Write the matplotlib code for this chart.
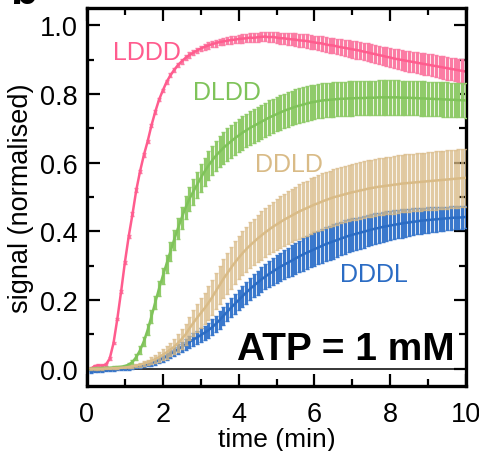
import numpy as np
import matplotlib
matplotlib.use('Agg')
import matplotlib.pyplot as plt
from matplotlib.ticker import MultipleLocator

plt.rcParams['font.family'] = ['Liberation Sans', 'DejaVu Sans']

# time points (min), one reading every 6 s
t = np.round(np.arange(1, 101) * 0.1, 1)

# LDDD
lddd = [0.000, 0.008, 0.010, 0.009, 0.012, 0.030, 0.075, 0.145, 0.225, 0.310,
        0.385, 0.450, 0.520, 0.575, 0.622, 0.662, 0.708, 0.748, 0.783, 0.810,
        0.835, 0.854, 0.870, 0.884, 0.895, 0.905, 0.913, 0.920, 0.926, 0.932,
        0.937, 0.941, 0.945, 0.948, 0.951, 0.953, 0.955, 0.957, 0.958, 0.960,
        0.961, 0.962, 0.964, 0.963, 0.965, 0.966, 0.967, 0.965, 0.966, 0.964,
        0.962, 0.962, 0.960, 0.959, 0.958, 0.956, 0.955, 0.954, 0.952, 0.950,
        0.948, 0.947, 0.944, 0.942, 0.941, 0.938, 0.936, 0.934, 0.932, 0.930,
        0.928, 0.926, 0.923, 0.921, 0.918, 0.916, 0.913, 0.911, 0.908, 0.906,
        0.903, 0.901, 0.899, 0.897, 0.895, 0.893, 0.891, 0.889, 0.887, 0.885,
        0.883, 0.881, 0.879, 0.877, 0.875, 0.873, 0.871, 0.869, 0.867, 0.865]
lddd_err = [0.004] * 10 + [0.005] * 10 + \
    [0.006, 0.006, 0.006, 0.007, 0.007, 0.007, 0.008, 0.008, 0.008, 0.008,
     0.009, 0.009, 0.009, 0.010, 0.010, 0.010, 0.010, 0.011, 0.011, 0.011,
     0.012, 0.012, 0.012, 0.013, 0.013, 0.013, 0.014, 0.014, 0.015, 0.015,
     0.016, 0.016, 0.017, 0.017, 0.018, 0.018, 0.019, 0.019, 0.020, 0.020,
     0.021, 0.021, 0.022, 0.022, 0.022, 0.023, 0.023, 0.023, 0.024, 0.024,
     0.025, 0.025, 0.025, 0.026, 0.026, 0.026, 0.027, 0.027, 0.028, 0.028,
     0.028, 0.029, 0.029, 0.029, 0.030, 0.030, 0.030, 0.031, 0.031, 0.031,
     0.032, 0.032, 0.032, 0.033, 0.033, 0.033, 0.034, 0.034, 0.035, 0.035]

# DLDD
dldd = [0.000, 0.001, 0.001, 0.002, 0.003, 0.003, 0.004, 0.005, 0.006, 0.008,
        0.012, 0.020, 0.034, 0.054, 0.080, 0.113, 0.152, 0.193, 0.233, 0.270,
        0.306, 0.341, 0.376, 0.409, 0.440, 0.469, 0.494, 0.515, 0.535, 0.555,
        0.574, 0.591, 0.606, 0.620, 0.632, 0.643, 0.653, 0.662, 0.671, 0.679,
        0.687, 0.694, 0.701, 0.707, 0.713, 0.719, 0.725, 0.731, 0.736, 0.741,
        0.746, 0.751, 0.755, 0.759, 0.763, 0.766, 0.769, 0.772, 0.775, 0.777,
        0.779, 0.781, 0.782, 0.783, 0.784, 0.785, 0.786, 0.786, 0.787, 0.787,
        0.788, 0.788, 0.788, 0.789, 0.789, 0.789, 0.790, 0.790, 0.790, 0.790,
        0.790, 0.790, 0.789, 0.789, 0.789, 0.788, 0.788, 0.787, 0.787, 0.786,
        0.786, 0.785, 0.785, 0.784, 0.784, 0.783, 0.783, 0.782, 0.782, 0.781]
dldd_err = [0.003] * 10 + \
    [0.005, 0.007, 0.009, 0.011, 0.013, 0.016, 0.018, 0.020, 0.022, 0.024,
     0.026, 0.028, 0.029, 0.031, 0.032, 0.034, 0.035, 0.037, 0.038, 0.040,
     0.041, 0.042, 0.043, 0.044, 0.045, 0.046, 0.047, 0.047, 0.048, 0.048,
     0.049, 0.049, 0.049, 0.049, 0.050, 0.050, 0.050, 0.050, 0.050, 0.050] + [0.050] * 50

# DDLD
ddld = [0.000, 0.000, 0.000, 0.000, 0.001, 0.001, 0.002, 0.002, 0.003, 0.004,
        0.005, 0.007, 0.009, 0.012, 0.015, 0.019, 0.023, 0.028, 0.034, 0.041,
        0.048, 0.056, 0.064, 0.075, 0.087, 0.100, 0.117, 0.133, 0.148, 0.162,
        0.176, 0.191, 0.208, 0.226, 0.244, 0.262, 0.278, 0.294, 0.309, 0.323,
        0.336, 0.348, 0.359, 0.369, 0.379, 0.388, 0.397, 0.405, 0.413, 0.420,
        0.427, 0.434, 0.440, 0.446, 0.452, 0.458, 0.463, 0.468, 0.473, 0.478,
        0.482, 0.487, 0.491, 0.495, 0.499, 0.502, 0.505, 0.508, 0.511, 0.514,
        0.516, 0.519, 0.521, 0.524, 0.526, 0.528, 0.530, 0.531, 0.533, 0.534,
        0.536, 0.537, 0.539, 0.540, 0.541, 0.542, 0.543, 0.544, 0.545, 0.546,
        0.547, 0.548, 0.549, 0.550, 0.551, 0.552, 0.553, 0.554, 0.555, 0.556]
ddld_err = [0.002] * 10 + \
    [0.003, 0.004, 0.005, 0.006, 0.007, 0.008, 0.010, 0.012, 0.014, 0.016,
     0.018, 0.020, 0.022, 0.025, 0.028, 0.031, 0.034, 0.037, 0.040, 0.043,
     0.046, 0.049, 0.051, 0.053, 0.055, 0.057, 0.059, 0.061, 0.062, 0.063,
     0.064, 0.066, 0.067, 0.068, 0.069, 0.070, 0.071, 0.072, 0.073, 0.074,
     0.075, 0.076, 0.077, 0.078, 0.078, 0.079, 0.080, 0.080, 0.081, 0.081] + \
    [0.082] * 10 + [0.083] * 10 + [0.084] * 10 + [0.085] * 10

# DDDL
dddl = [-0.008, -0.007, -0.006, -0.005, -0.004, -0.003, -0.002, -0.001, 0.000, 0.001,
        0.002, 0.004, 0.006, 0.008, 0.010, 0.013, 0.016, 0.020, 0.025, 0.030,
        0.036, 0.043, 0.050, 0.057, 0.064, 0.071, 0.078, 0.085, 0.091, 0.098,
        0.105, 0.112, 0.121, 0.131, 0.142, 0.154, 0.166, 0.178, 0.189, 0.200,
        0.211, 0.222, 0.232, 0.242, 0.251, 0.260, 0.268, 0.276, 0.283, 0.290,
        0.297, 0.303, 0.309, 0.315, 0.321, 0.327, 0.333, 0.338, 0.343, 0.348,
        0.353, 0.358, 0.363, 0.367, 0.371, 0.375, 0.379, 0.383, 0.387, 0.390,
        0.393, 0.396, 0.399, 0.402, 0.405, 0.408, 0.410, 0.413, 0.415, 0.417,
        0.419, 0.421, 0.423, 0.425, 0.426, 0.428, 0.429, 0.431, 0.432, 0.433,
        0.434, 0.435, 0.436, 0.437, 0.438, 0.439, 0.440, 0.440, 0.441, 0.442]
dddl_err = [0.003] * 10 + \
    [0.004, 0.004, 0.005, 0.005, 0.006, 0.006, 0.007, 0.008, 0.009, 0.010,
     0.011, 0.012, 0.013, 0.014, 0.015, 0.016, 0.017, 0.018, 0.019, 0.020,
     0.021, 0.022, 0.023, 0.024, 0.025, 0.026, 0.027, 0.028, 0.029, 0.030,
     0.031, 0.032, 0.033, 0.034, 0.035, 0.036, 0.037, 0.038, 0.039, 0.040,
     0.041, 0.042, 0.043, 0.044, 0.045, 0.046, 0.047, 0.048, 0.048, 0.049,
     0.049, 0.049, 0.050, 0.050, 0.050, 0.049, 0.049, 0.049, 0.048, 0.048,
     0.047, 0.047, 0.046, 0.046, 0.045, 0.045, 0.044, 0.044, 0.043, 0.043,
     0.042, 0.041, 0.041, 0.040, 0.039, 0.039, 0.038, 0.038, 0.037, 0.037,
     0.036, 0.036, 0.035, 0.035, 0.034, 0.034, 0.033, 0.033, 0.033, 0.032]

names = ['LDDD', 'DLDD', 'DDLD', 'DDDL']
line_cols = ['#ff5c8e', '#7fc35a', '#d9bb87', '#2b6cc4']
bar_cols = ['#fb7ca4', '#90cb6a', '#d8b984', '#3a78cc']
bar_alpha = [1.0, 1.0, 0.75, 1.0]
# left edge / baseline of each name
label_xy = [(0.69, 0.901), (2.8, 0.785), (4.43, 0.576), (6.68, 0.257)]

fig = plt.figure(figsize=(4.79, 4.52), dpi=100)
ax = fig.add_axes([0.1816, 0.1438, 0.7914, 0.8362])

ax.axhline(0, color='black', lw=1.1, zorder=0)

series = [lddd, dldd, dddl, ddld]
errs = [lddd_err, dldd_err, dddl_err, ddld_err]
order = [0, 1, 3, 2]
for k, idx in enumerate(order):
    y = np.array(series[k])
    e = np.array(errs[k])
    ax.errorbar(t, y, yerr=e, fmt='none', ecolor=bar_cols[idx], elinewidth=2.3,
                capsize=1.3, capthick=1.0, alpha=bar_alpha[idx], zorder=2 + k)
    ax.plot(t, y, color=line_cols[idx], lw=1.8, zorder=2 + k)

for i, name in enumerate(names):
    ax.text(label_xy[i][0], label_xy[i][1], name, color=line_cols[i],
            fontsize=18, ha='left', va='baseline', zorder=10)

ax.text(9.71, 0.029, 'ATP = 1 mM', fontsize=28, fontweight='bold',
        ha='right', va='baseline', zorder=10)

ax.set_xlim(0, 10)
ax.set_ylim(-0.05, 1.05)
ax.xaxis.set_major_locator(MultipleLocator(2))
ax.xaxis.set_minor_locator(MultipleLocator(1))
ax.yaxis.set_major_locator(MultipleLocator(0.2))
ax.yaxis.set_minor_locator(MultipleLocator(0.1))
ax.yaxis.set_major_formatter(plt.FormatStrFormatter('%.1f'))
ax.tick_params(which='both', direction='in', top=True, right=True,
               width=1.6, labelsize=19.5, pad=7)
ax.tick_params(axis='x', which='major', pad=11)
ax.tick_params(which='major', length=9)
ax.tick_params(which='minor', length=5)
for s in ax.spines.values():
    s.set_linewidth(2.4)

ax.set_xlabel('time (min)', fontsize=19, labelpad=0)
ax.set_ylabel('signal (normalised)', fontsize=19.5, labelpad=4)

fig.text(10 / 479, 1 - 4 / 452, 'b', fontsize=32, fontweight='bold',
         ha='left', va='baseline')

fig.savefig('out.png', dpi=100)
